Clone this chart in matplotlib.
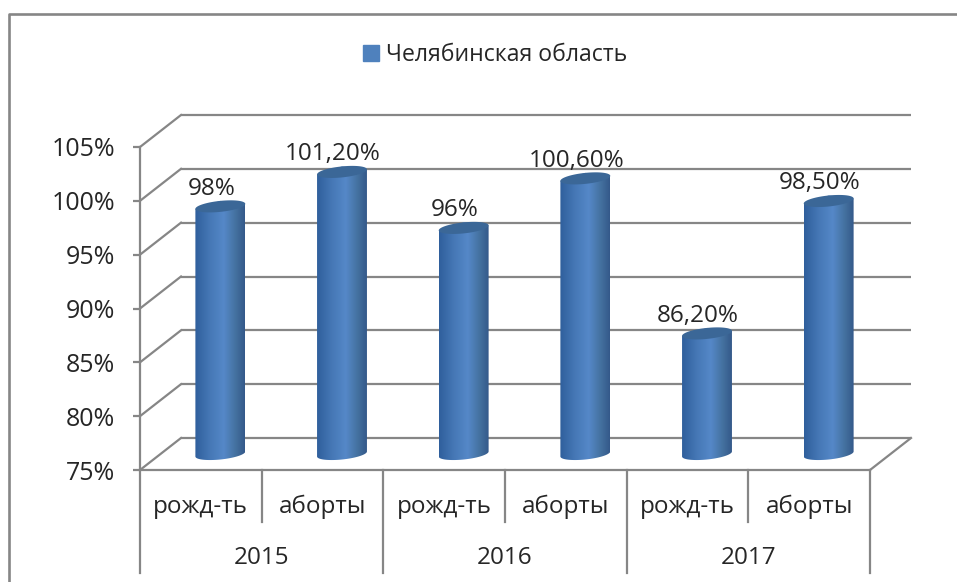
import numpy as np
import matplotlib
matplotlib.use('Agg')
import matplotlib.pyplot as plt
from matplotlib.patches import Patch, PathPatch
from matplotlib.path import Path
from matplotlib.colors import LinearSegmentedColormap

plt.rcParams['font.family'] = ['Open Sans', 'DejaVu Sans']

# data
groups = ['2015', '2016', '2017']
categories = ['рожд-ть', 'аборты', 'рожд-ть', 'аборты', 'рожд-ть', 'аборты']
values = [98, 101.2, 96, 100.6, 86.2, 98.5]
value_labels = ['98%', '101,20%', '96%', '100,60%', '86,20%', '98,50%']
y_ticks = [75, 80, 85, 90, 95, 100, 105]
series_name = 'Челябинская область'

W, H = 957, 582
GRAY = '#868686'
TEXT = '#262626'
LW = 1.6

fig = plt.figure(figsize=(W / 100, H / 100), dpi=100, facecolor='white')


def plane(dx, dy):
    # an axes for one depth plane of the fake 3D box, pixels from top left
    x0, y0, x1, y1 = 140 + dx, 470 - dy, 870 + dx, 147 - dy
    a = fig.add_axes([x0 / W, 1 - y0 / H, (x1 - x0) / W, (y0 - y1) / H])
    a.set_xlim(-0.5, 5.5)
    a.set_ylim(75, 105)
    a.patch.set_alpha(0)
    for s in a.spines.values():
        s.set_visible(False)
    return a


# overlay in pixels for the outer frame and the box edges
box = fig.add_axes([0, 0, 1, 1], zorder=0)
box.set_xlim(0, W)
box.set_ylim(H, 0)
box.axis('off')
box.plot([9, 9, W], [H, 14, 14], color=GRAY, lw=LW + 0.3)

back = plane(41, 32)
back.set_zorder(1)
back.axis('off')
back.hlines(y_ticks, -0.5, 5.5, color=GRAY, lw=LW, clip_on=False)

front = plane(0, 0)
front.set_zorder(2)
front.set_yticks(y_ticks)
front.set_yticklabels([f'{t}%' for t in y_ticks], fontsize=18, color=TEXT)
front.tick_params(axis='y', length=5, width=LW, color=GRAY, pad=13)
front.set_xticks(range(len(categories)))
front.set_xticklabels(categories, fontsize=17.5, color=TEXT)
front.tick_params(axis='x', length=0, pad=18)
for side in ['left', 'bottom']:
    front.spines[side].set_visible(True)
    front.spines[side].set_color(GRAY)
    front.spines[side].set_linewidth(LW)

# diagonals between the front axis and the back wall
for t in y_ticks:
    p0 = front.transData.transform((-0.5, t))
    p1 = back.transData.transform((-0.5, t))
    box.plot([p0[0], p1[0]], [H - p0[1], H - p1[1]], color=GRAY, lw=LW)
p0 = front.transData.transform((5.5, 75))
p1 = back.transData.transform((5.5, 75))
box.plot([p0[0], p1[0]], [H - p0[1], H - p1[1]], color=GRAY, lw=LW)

# category separators and group labels under the axis
xform = front.get_xaxis_transform()
for i in range(len(categories) + 1):
    low = -0.32 if i % 2 == 0 else -0.16
    front.plot([i - 0.5, i - 0.5], [0, low], transform=xform, color=GRAY, lw=LW, clip_on=False)
for g, name in enumerate(groups):
    front.text(2 * g + 0.5, -0.273, name, transform=xform, ha='center', va='center',
               fontsize=17.5, color=TEXT)

# cylinders sit on a plane half way into the box
bars_ax = plane(19.5, 16)
bars_ax.set_zorder(3)
bars_ax.axis('off')
bar_w = 0.41
hh = 5.5 * 30 / 323     # ellipse half height, in y units
tilt = 2.5 * 30 / 323   # rise of the right end of the ellipse
cyl = LinearSegmentedColormap.from_list('cyl', [(0, '#2f5f9c'), (0.3, '#4678b6'), (0.58, '#5588c8'),
                                                (0.82, '#44719f'), (1, '#34598a')])
grad = np.linspace(0, 1, 128).reshape(1, -1)
bars = bars_ax.bar(range(len(values)), np.array(values) - 75, bottom=75, width=bar_w,
                   color='#4f81bd', alpha=0)
t = np.linspace(np.pi, 2 * np.pi, 40)
for bar, v, lab in zip(bars, values, value_labels):
    cx = bar.get_x() + bar_w / 2
    ex = cx + bar_w / 2 * np.cos(t)
    ey = 75 + hh * np.sin(t) + tilt * np.cos(t)
    verts = list(zip(ex, ey)) + [(cx + bar_w / 2, v + tilt), (cx, v + hh), (cx - bar_w / 2, v - tilt)]
    verts.append(verts[0])
    clip = PathPatch(Path(verts), transform=bars_ax.transData, fc='none', ec='none')
    clip.set_clip_on(False)
    bars_ax.add_patch(clip)
    im = bars_ax.imshow(grad, cmap=cyl, aspect='auto', zorder=2,
                        extent=(cx - bar_w / 2, cx + bar_w / 2, 70, v + 2))
    im.set_clip_box(fig.bbox)
    im.set_clip_path(clip)
    tt = np.linspace(0, 2 * np.pi, 80)
    tx = cx + bar_w / 2 * np.cos(tt)
    ty = v + hh * np.sin(tt) + tilt * np.cos(tt)
    bars_ax.fill(tx, ty, color='#3b6797', zorder=3, lw=0)
    bars_ax.annotate(lab, (cx, v), xytext=(-9 * 0.72, 17.5 * 0.72), textcoords='offset points',
                     ha='center', va='center', fontsize=17.5, color=TEXT, annotation_clip=False)
bars_ax.set_xlim(-0.5, 5.5)
bars_ax.set_ylim(75, 105)

leg = fig.legend(handles=[Patch(color='#4f81bd', label=series_name)], loc='center',
                 bbox_to_anchor=(495 / W, 1 - 55 / H), frameon=False, fontsize=16.6,
                 handlelength=0.72, handleheight=0.72, handletextpad=0.3, labelcolor=TEXT)

fig.savefig('out.png', dpi=100)
